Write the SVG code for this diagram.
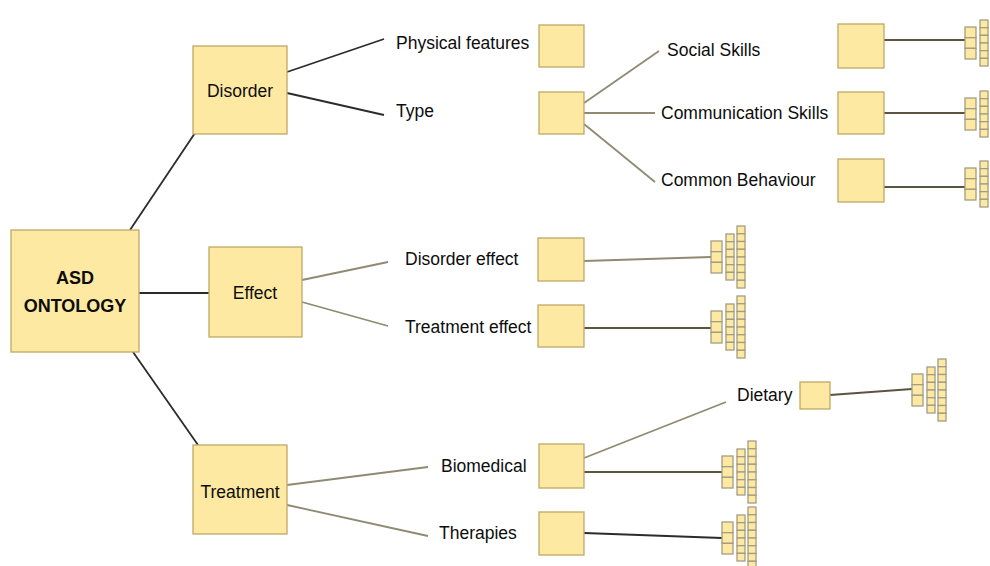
<svg xmlns="http://www.w3.org/2000/svg" xmlns:xlink="http://www.w3.org/1999/xlink" width="990" height="566" viewBox="0 0 990 566">
  <style>
    .box { fill: #fde9a1; stroke: #bfa868; stroke-width: 1.3; }
    .cell { fill: #fde9a1; stroke: #a39d84; stroke-width: 1.3; }
    .lbl { font-family: "Liberation Sans", Arial, sans-serif; font-size: 17.5px; fill: #0d0d0d; }
    .title { font-family: "Liberation Sans", Arial, sans-serif; font-size: 18px; font-weight: bold; fill: #0d0d0d; text-anchor: middle; }
    .mid { text-anchor: middle; }
    .dark { stroke: #2b2b2b; stroke-width: 1.8; fill: none; }
    .olive { stroke: #8f8a72; stroke-width: 1.8; fill: none; }
    .deep { stroke: #5a5440; stroke-width: 1.8; fill: none; }
  </style>
  <defs>
    <!-- small stacked-instance icon: columns of 3, 6 and 8 cells, anchored at left-middle -->
    <g id="stack">
      <rect class="cell" x="0" y="-16" width="11" height="10.67"/>
      <rect class="cell" x="0" y="-5.33" width="11" height="10.67"/>
      <rect class="cell" x="0" y="5.33" width="11" height="10.67"/>
      <rect class="cell" x="15" y="-23" width="8" height="7.67"/>
      <rect class="cell" x="15" y="-15.33" width="8" height="7.67"/>
      <rect class="cell" x="15" y="-7.67" width="8" height="7.67"/>
      <rect class="cell" x="15" y="0" width="8" height="7.67"/>
      <rect class="cell" x="15" y="7.67" width="8" height="7.67"/>
      <rect class="cell" x="15" y="15.33" width="8" height="7.67"/>
      <rect class="cell" x="26" y="-31" width="8" height="7.75"/>
      <rect class="cell" x="26" y="-23.25" width="8" height="7.75"/>
      <rect class="cell" x="26" y="-15.5" width="8" height="7.75"/>
      <rect class="cell" x="26" y="-7.75" width="8" height="7.75"/>
      <rect class="cell" x="26" y="0" width="8" height="7.75"/>
      <rect class="cell" x="26" y="7.75" width="8" height="7.75"/>
      <rect class="cell" x="26" y="15.5" width="8" height="7.75"/>
      <rect class="cell" x="26" y="23.25" width="8" height="7.75"/>
    </g>
  </defs>

  <rect width="990" height="566" fill="#ffffff"/>

  <g id="connectors">
    <line class="dark" x1="130" y1="230" x2="195" y2="133"/>
    <line class="dark" x1="139" y1="293" x2="209" y2="293"/>
    <line class="dark" x1="133" y1="352" x2="198" y2="445"/>
    <line class="dark" x1="287" y1="72" x2="384" y2="39"/>
    <line class="dark" x1="287" y1="93" x2="384" y2="115"/>
    <line class="olive" x1="302" y1="280" x2="388" y2="262"/>
    <line class="olive" x1="302" y1="302" x2="388" y2="326"/>
    <line class="olive" x1="287" y1="485" x2="428" y2="467"/>
    <line class="olive" x1="287" y1="505" x2="428" y2="536"/>
    <line class="olive" x1="584" y1="103" x2="659" y2="51"/>
    <line class="olive" x1="584" y1="113" x2="655" y2="113"/>
    <line class="olive" x1="584" y1="124" x2="655" y2="182"/>
    <line class="olive" x1="584" y1="458" x2="726" y2="402"/>
    <line class="deep" x1="584" y1="472" x2="722" y2="472"/>
    <line class="dark" x1="584" y1="533" x2="722" y2="538"/>
    <line class="olive" x1="584" y1="261" x2="711" y2="257"/>
    <line class="deep" x1="584" y1="328" x2="711" y2="328"/>
    <line class="deep" x1="830" y1="395" x2="912" y2="389"/>
    <line class="deep" x1="884" y1="40" x2="965" y2="40"/>
    <line class="deep" x1="884" y1="113" x2="965" y2="113"/>
    <line class="deep" x1="884" y1="187" x2="965" y2="187"/>
  </g>

  <g id="asd-ontology">
    <rect class="box" x="11" y="230" width="128" height="122"/>
    <text class="title" x="75" y="284">ASD</text>
    <text class="title" x="75" y="312">ONTOLOGY</text>
  </g>

  <g id="disorder">
    <rect class="box" x="193" y="46" width="94" height="88"/>
    <text class="lbl mid" x="240" y="97">Disorder</text>
  </g>

  <g id="effect">
    <rect class="box" x="209" y="247" width="93" height="90"/>
    <text class="lbl mid" x="255" y="299">Effect</text>
  </g>

  <g id="treatment">
    <rect class="box" x="193" y="445" width="94" height="89"/>
    <text class="lbl mid" x="240" y="498">Treatment</text>
  </g>

  <g id="physical-features">
    <text class="lbl" x="396" y="49">Physical features</text>
    <rect class="box" x="539" y="25" width="45" height="42"/>
  </g>

  <g id="type">
    <text class="lbl" x="396" y="117">Type</text>
    <rect class="box" x="539" y="92" width="45" height="42"/>
  </g>

  <g id="social-skills">
    <text class="lbl" x="667" y="56">Social Skills</text>
    <rect class="box" x="838" y="24" width="46" height="44"/>
    <use xlink:href="#stack" href="#stack" x="965" y="43"/>
  </g>

  <g id="communication-skills">
    <text class="lbl" x="661" y="119">Communication Skills</text>
    <rect class="box" x="838" y="92" width="46" height="42"/>
    <use xlink:href="#stack" href="#stack" x="965" y="114"/>
  </g>

  <g id="common-behaviour">
    <text class="lbl" x="661" y="186">Common Behaviour</text>
    <rect class="box" x="838" y="159" width="46" height="43"/>
    <use xlink:href="#stack" href="#stack" x="965" y="184"/>
  </g>

  <g id="disorder-effect">
    <text class="lbl" x="405" y="265">Disorder effect</text>
    <rect class="box" x="538" y="238" width="46" height="43"/>
    <use xlink:href="#stack" href="#stack" x="711" y="257"/>
  </g>

  <g id="treatment-effect">
    <text class="lbl" x="405" y="333">Treatment effect</text>
    <rect class="box" x="538" y="305" width="46" height="42"/>
    <use xlink:href="#stack" href="#stack" x="711" y="327"/>
  </g>

  <g id="dietary">
    <text class="lbl" x="737" y="401">Dietary</text>
    <rect class="box" x="800" y="382" width="30" height="27"/>
    <use xlink:href="#stack" href="#stack" x="912" y="390"/>
  </g>

  <g id="biomedical">
    <text class="lbl" x="441" y="472">Biomedical</text>
    <rect class="box" x="539" y="444" width="45" height="44"/>
    <use xlink:href="#stack" href="#stack" x="722" y="472"/>
  </g>

  <g id="therapies">
    <text class="lbl" x="439" y="539">Therapies</text>
    <rect class="box" x="539" y="512" width="45" height="43"/>
    <use xlink:href="#stack" href="#stack" x="722" y="538"/>
  </g>
</svg>
